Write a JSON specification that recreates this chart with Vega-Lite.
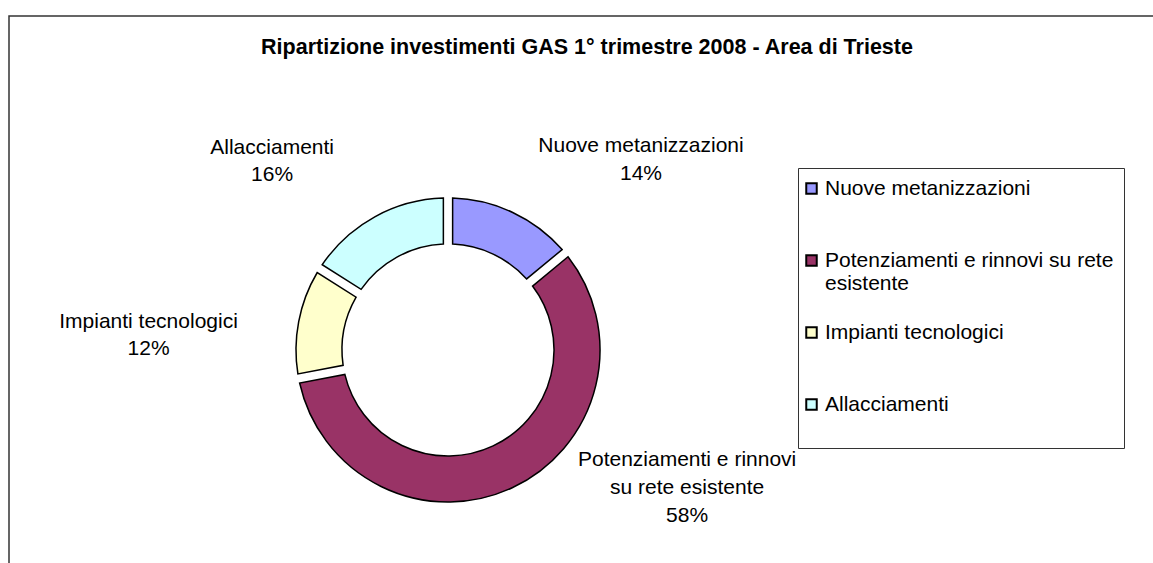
{
  "$schema": "https://vega.github.io/schema/vega-lite/v6.json",
  "width": 1153,
  "height": 563,
  "autosize": {"type": "fit", "contains": "padding"},
  "padding": {"left": 8, "top": 15, "right": -3, "bottom": -3},
  "background": "white",
  "config": {"font": "Liberation Sans", "view": {"stroke": null}},
  "title": {
    "text": "Ripartizione investimenti GAS 1° trimestre 2008 - Area di Trieste",
    "fontSize": 21.5,
    "fontWeight": "bold",
    "font": "Liberation Sans",
    "color": "black",
    "anchor": "middle",
    "frame": "group",
    "offset": -60,
    "baseline": "alphabetic",
    "dx": 5
  },
  "data": {
    "values": [
      {"categoria": "Nuove metanizzazioni", "quota": 14, "ordine": 1, "etichetta": "Nuove metanizzazioni\n14%"},
      {"categoria": "Potenziamenti e rinnovi su rete esistente", "quota": 58, "ordine": 2, "etichetta": "Potenziamenti e rinnovi\nsu rete esistente\n58%"},
      {"categoria": "Impianti tecnologici", "quota": 12, "ordine": 3, "etichetta": "Impianti tecnologici\n12%"},
      {"categoria": "Allacciamenti", "quota": 16, "ordine": 4, "etichetta": "Allacciamenti\n16%"}
    ]
  },
  "layer": [
    {
      "data": {"values": [{}]},
      "mark": {"type": "rect", "fill": "transparent", "stroke": "#333333", "strokeWidth": 1.5},
      "encoding": {}
    },
    {
      "transform": [
        {"stack": "quota", "groupby": [], "sort": [{"field": "ordine", "order": "ascending"}], "as": ["q0", "q1"]}
      ],
      "mark": {"type": "arc", "innerRadius": 106, "outerRadius": 152, "padAngle": 0.05, "stroke": "black", "strokeWidth": 1.5, "x": 439, "y": 334},
      "encoding": {
        "theta": {"field": "q0", "type": "quantitative", "scale": {"domain": [0, 100]}},
        "theta2": {"field": "q1"},
        "color": {
          "field": "categoria",
          "type": "nominal",
          "scale": {
            "domain": ["Nuove metanizzazioni", "Potenziamenti e rinnovi su rete esistente", "Impianti tecnologici", "Allacciamenti"],
            "range": ["#9999FF", "#993366", "#FFFFCC", "#CCFFFF"]
          },
          "legend": {
            "orient": "none",
            "legendX": 789,
            "legendY": 152,
            "title": null,
            "labelFontSize": 21,
            "labelFont": "Liberation Sans",
            "labelColor": "black",
            "labelLimit": 400,
            "labelOffset": 3,
            "symbolOffset": -7,
            "symbolType": "square",
            "symbolSize": 110,
            "symbolStrokeColor": "black",
            "symbolStrokeWidth": 2,
            "rowPadding": 27,
            "padding": 10,
            "strokeColor": "#333333",
            "fillColor": "white",
            "labelExpr": "datum.label == 'Potenziamenti e rinnovi su rete esistente' ? ['Potenziamenti e rinnovi su rete', 'esistente'] : [datum.label, '']"
          }
        }
      }
    },
    {
      "transform": [
        {"stack": "quota", "groupby": [], "sort": [{"field": "ordine", "order": "ascending"}], "as": ["q0", "q1"]},
        {"filter": "datum.categoria === 'Nuove metanizzazioni'"}
      ],
      "mark": {"type": "text", "radius": 200, "x": 439, "y": 334, "dx": 193, "dy": -4, "fontSize": 21, "lineBreak": "\n", "lineHeight": 28, "align": "center", "baseline": "middle", "color": "black"},
      "encoding": {"theta": {"field": "q0", "type": "quantitative"}, "text": {"field": "etichetta"}}
    },
    {
      "transform": [
        {"stack": "quota", "groupby": [], "sort": [{"field": "ordine", "order": "ascending"}], "as": ["q0", "q1"]},
        {"filter": "datum.categoria === 'Potenziamenti e rinnovi su rete esistente'"}
      ],
      "mark": {"type": "text", "radius": 200, "x": 439, "y": 334, "dx": 85, "dy": 237, "fontSize": 21, "lineBreak": "\n", "lineHeight": 28, "align": "center", "baseline": "middle", "color": "black"},
      "encoding": {"theta": {"field": "q0", "type": "quantitative"}, "text": {"field": "etichetta"}}
    },
    {
      "transform": [
        {"stack": "quota", "groupby": [], "sort": [{"field": "ordine", "order": "ascending"}], "as": ["q0", "q1"]},
        {"filter": "datum.categoria === 'Impianti tecnologici'"}
      ],
      "mark": {"type": "text", "radius": 200, "x": 439, "y": 334, "dx": -103, "dy": -65, "fontSize": 21, "lineBreak": "\n", "lineHeight": 27, "align": "center", "baseline": "middle", "color": "black"},
      "encoding": {"theta": {"field": "q0", "type": "quantitative"}, "text": {"field": "etichetta"}}
    },
    {
      "transform": [
        {"stack": "quota", "groupby": [], "sort": [{"field": "ordine", "order": "ascending"}], "as": ["q0", "q1"]},
        {"filter": "datum.categoria === 'Allacciamenti'"}
      ],
      "mark": {"type": "text", "radius": 200, "x": 439, "y": 334, "dx": -7, "dy": -95, "fontSize": 21, "lineBreak": "\n", "lineHeight": 27, "align": "center", "baseline": "middle", "color": "black"},
      "encoding": {"theta": {"field": "q0", "type": "quantitative"}, "text": {"field": "etichetta"}}
    }
  ]
}
